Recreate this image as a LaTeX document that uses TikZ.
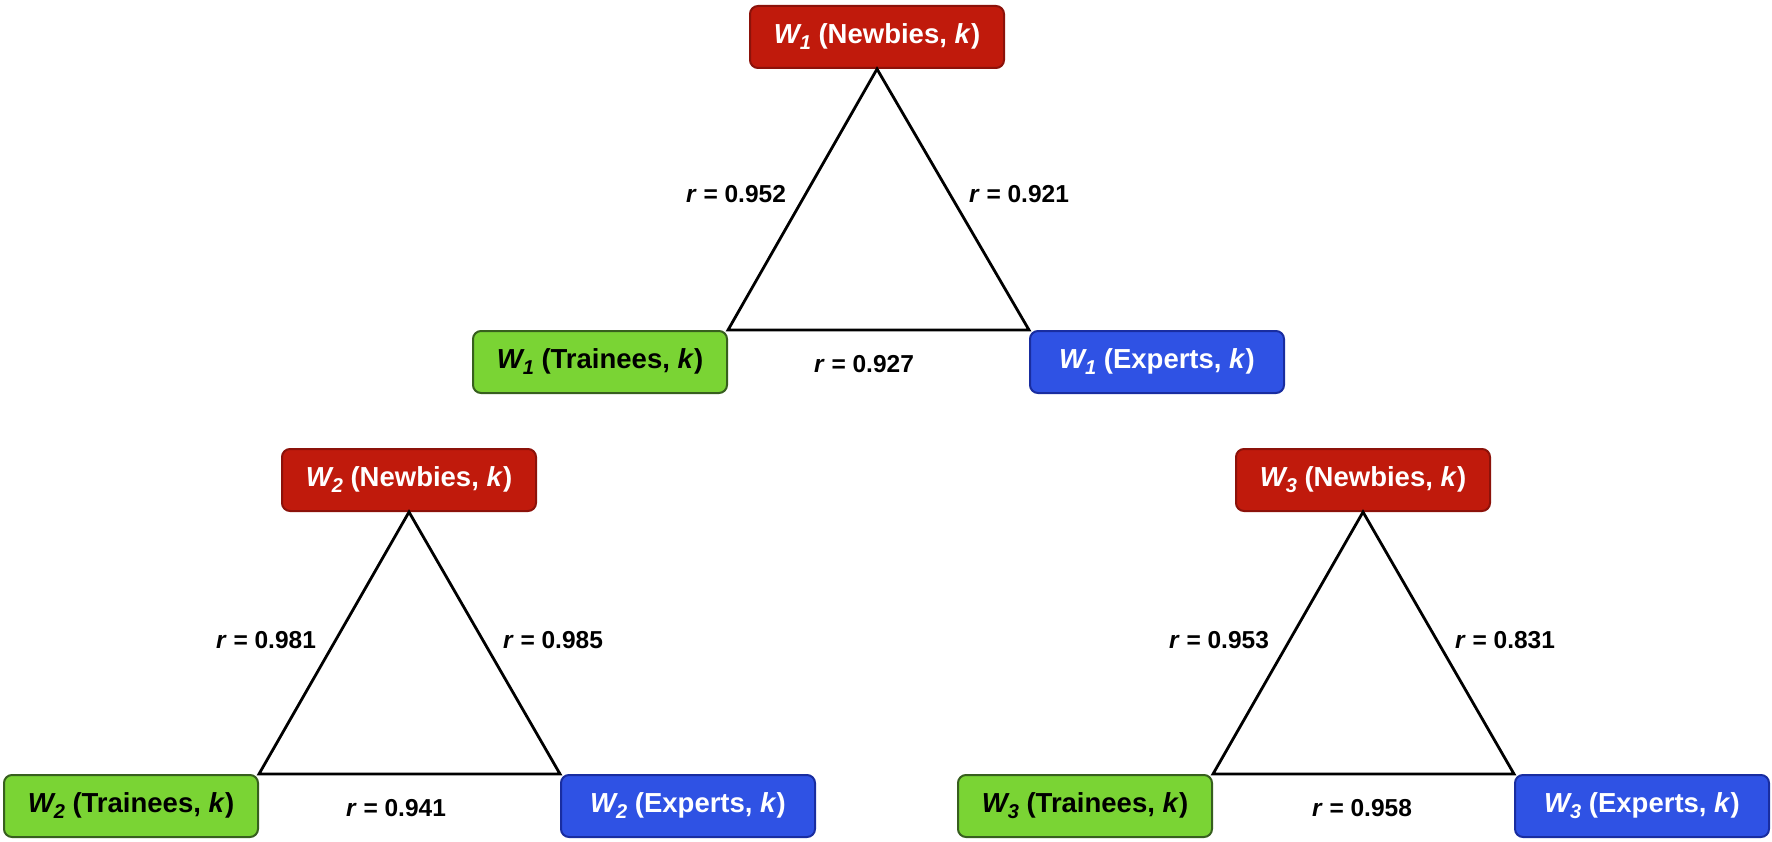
\documentclass[tikz,border=0pt]{standalone}
\usepackage{fontspec}
\setmainfont{Liberation Sans}
\definecolor{nred}{RGB}{192,26,12}
\definecolor{nredb}{RGB}{140,18,10}
\definecolor{ngreen}{RGB}{122,212,52}
\definecolor{ngreenb}{RGB}{55,95,30}
\definecolor{nblue}{RGB}{47,82,228}
\definecolor{nblueb}{RGB}{25,45,160}
\newcommand{\wv}[1]{\textit{W\raisebox{-6pt}{\fontsize{20}{22}\selectfont #1}}}
\begin{document}
\begin{tikzpicture}[x=1pt,y=-1pt,
  box/.style={rectangle,rounded corners=8pt,line width=2pt,minimum width=254pt,minimum height=62pt,inner sep=0pt,font=\fontsize{27.5}{30}\selectfont\bfseries},
  newb/.style={box,fill=nred,draw=nredb,text=white},
  train/.style={box,fill=ngreen,draw=ngreenb,text=black},
  expt/.style={box,fill=nblue,draw=nblueb,text=white},
  edge/.style={line width=2.8pt,line join=miter},
  lab/.style={font=\fontsize{24.5}{28}\selectfont\bfseries,inner sep=0pt}]
\useasboundingbox (0,0) rectangle (1772,842);
% top triangle
\node[newb]  (N1) at (877,37)  {\wv{1} (Newbies, \textit{k})};
\node[train] (T1) at (600,362) {\wv{1} (Trainees, \textit{k})};
\node[expt]  (E1) at (1157,362) {\wv{1} (Experts, \textit{k})};
\draw[edge] (N1.south) -- (T1.north east) -- (E1.north west) -- cycle;
\node[lab] (L1a) at (736,194) {\textit{r} = 0.952};
\node[lab] (L1b) at (1019,194) {\textit{r} = 0.921};
\node[lab] (L1c) at (864,364) {\textit{r} = 0.927};
% bottom left
\node[newb]  (N2) at (409,480) {\wv{2} (Newbies, \textit{k})};
\node[train] (T2) at (131,806) {\wv{2} (Trainees, \textit{k})};
\node[expt]  (E2) at (688,806) {\wv{2} (Experts, \textit{k})};
\draw[edge] (N2.south) -- (T2.north east) -- (E2.north west) -- cycle;
\node[lab] (L2a) at (266,640) {\textit{r} = 0.981};
\node[lab] (L2b) at (553,640) {\textit{r} = 0.985};
\node[lab] (L2c) at (396,808) {\textit{r} = 0.941};
% bottom right
\node[newb]  (N3) at (1363,480) {\wv{3} (Newbies, \textit{k})};
\node[train] (T3) at (1085,806) {\wv{3} (Trainees, \textit{k})};
\node[expt]  (E3) at (1642,806) {\wv{3} (Experts, \textit{k})};
\draw[edge] (N3.south) -- (T3.north east) -- (E3.north west) -- cycle;
\node[lab] (L3a) at (1219,640) {\textit{r} = 0.953};
\node[lab] (L3b) at (1505,640) {\textit{r} = 0.831};
\node[lab] (L3c) at (1362,808) {\textit{r} = 0.958};
\end{tikzpicture}
\end{document}
